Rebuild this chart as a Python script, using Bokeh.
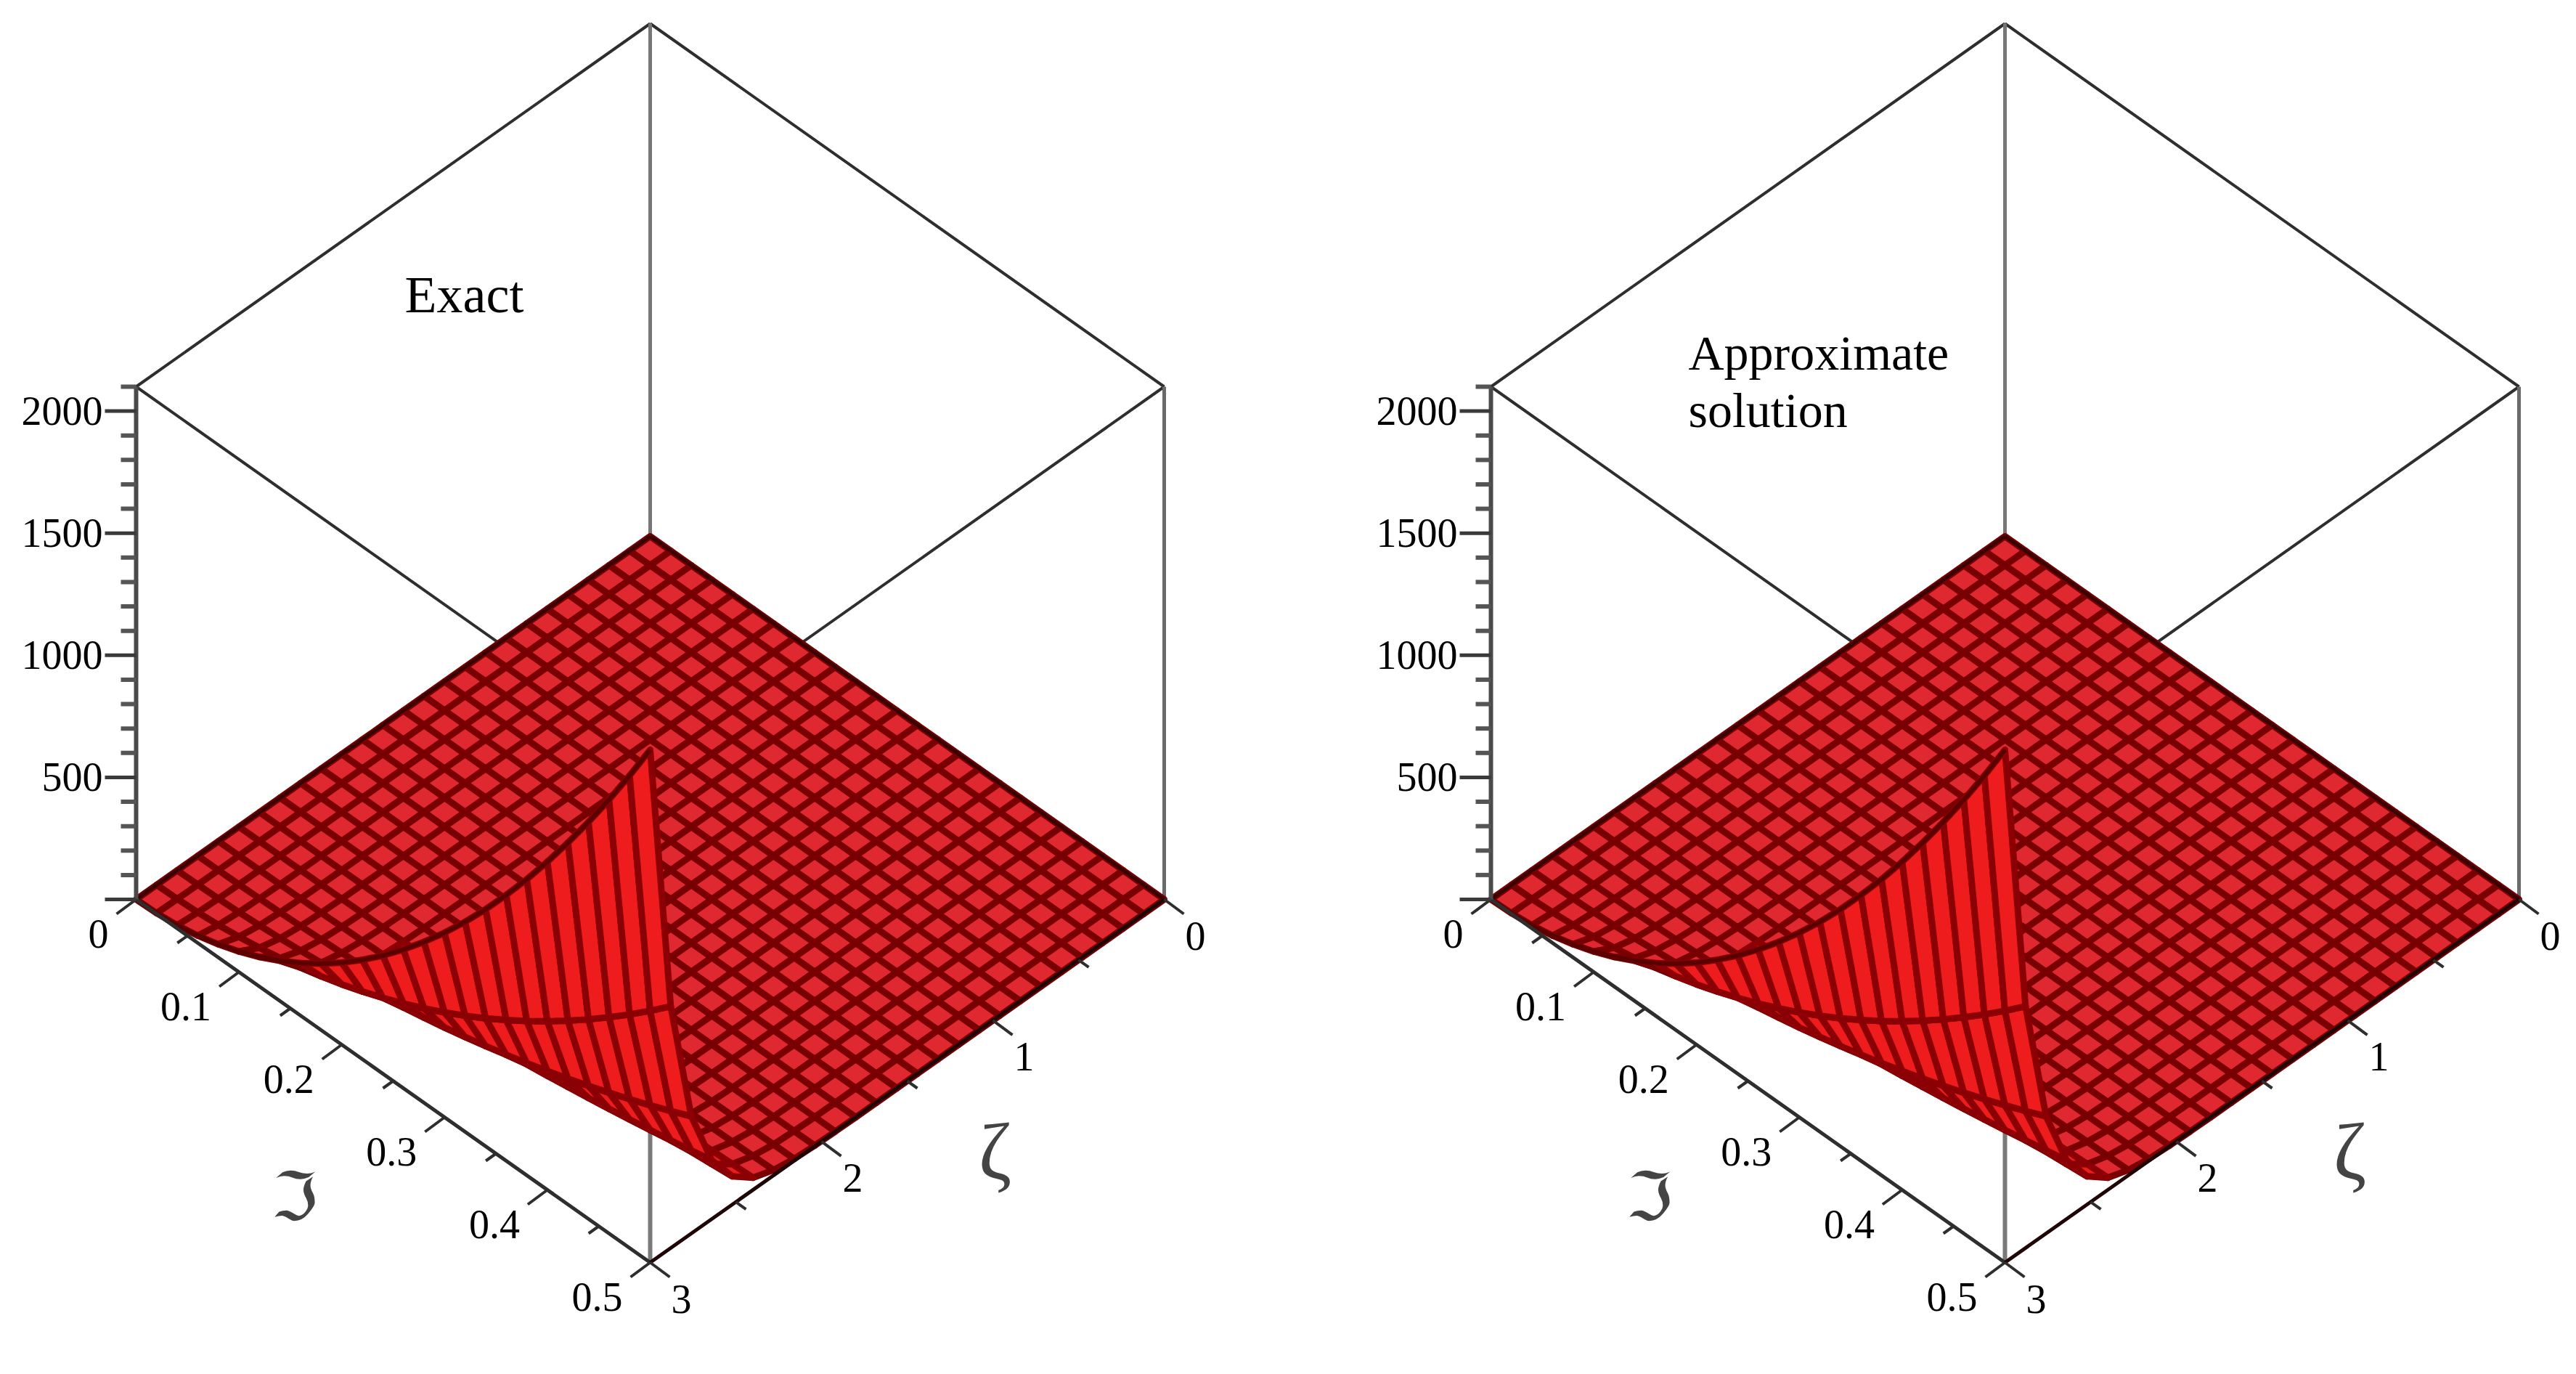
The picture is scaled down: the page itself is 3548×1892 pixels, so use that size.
from bokeh.embed import file_html
from bokeh.layouts import row
from bokeh.models import ColumnDataSource, Range1d
from bokeh.plotting import figure
from bokeh.resources import INLINE
from bokeh.core.properties import value

# ---- data ----
frak_grid = [0.00, 0.02, 0.04, 0.06, 0.08, 0.10, 0.12, 0.14, 0.16, 0.18, 0.20, 0.22, 0.24,
             0.26, 0.28, 0.30, 0.32, 0.34, 0.36, 0.38, 0.40, 0.42, 0.44, 0.46, 0.48, 0.50]
zeta_grid = [0.00, 0.12, 0.24, 0.36, 0.48, 0.60, 0.72, 0.84, 0.96, 1.08, 1.20, 1.32, 1.44,
             1.56, 1.68, 1.80, 1.92, 2.04, 2.16, 2.28, 2.40, 2.52, 2.64, 2.76, 2.88, 3.00]
# height along the edge zeta = 3, for each frak value
z_along_frak = [0, 3, 13, 30, 54, 84, 121, 165, 215, 272, 336, 407, 484,
                568, 659, 756, 860, 971, 1089, 1213, 1344, 1482, 1626, 1777, 1935, 2100]
# height along the edge frak = 0.5, for each zeta value
z_along_zeta = [0, 0, 0, 0, 0, 0, 0, 0, 0, 0, 0, 0, 0, 0,
                0, 0, 1, 3, 8, 22, 50, 115, 240, 480, 990, 2100]
z_max = 2100

frak_major = [0.0, 0.1, 0.2, 0.3, 0.4, 0.5]
frak_major_labels = ["0", "0.1", "0.2", "0.3", "0.4", "0.5"]
frak_minor = [0.05, 0.15, 0.25, 0.35, 0.45]
zeta_major = [0, 1, 2, 3]
zeta_major_labels = ["0", "1", "2", "3"]
zeta_minor = [0.5, 1.5, 2.5]
z_major = [500, 1000, 1500, 2000]
z_major_labels = ["500", "1000", "1500", "2000"]
z_minor = [100, 200, 300, 400, 600, 700, 800, 900, 1100, 1200, 1300, 1400,
           1600, 1700, 1800, 1900, 2100]
panel_titles = [["Exact"], ["Approximate", "solution"]]
title_sizes = ["72px", "68px"]
title_xy = [[(557, 405)], [(459, 485), (459, 564)]]

# ---- view of the box ----
CX, HALF, BACK_Y, DEPTH, HEIGHT = 895.0, 708.0, 738.0, 500.0, 706.0
FRAK_MAX, ZETA_MAX = 0.5, 3.0


def proj(f, t, z=0.0):
    u, v = f / FRAK_MAX, t / ZETA_MAX
    return CX + HALF * (u - v), BACK_Y + DEPTH * (u + v) - HEIGHT * z / z_max


def seg(p, a, b, color, width):
    p.line([a[0], b[0]], [a[1], b[1]], line_color=color, line_width=width, line_cap="butt")


def panel(width, x_start, titles, size, xy):
    p = figure(width=width, height=1876, output_backend="svg", toolbar_location=None,
               x_range=Range1d(x_start, x_start + width), y_range=Range1d(1876, 0),
               min_border=0, outline_line_color=None)
    p.axis.visible = False
    p.grid.visible = False
    p.background_fill_color = "white"

    # box edges behind the surface
    c = {k: proj(*k) for k in [(0, 0, z_max), (0.5, 3, z_max), (0, 3, z_max), (0.5, 0, z_max),
                               (0, 0, 0), (0.5, 3, 0), (0, 3, 0), (0.5, 0, 0)]}
    edge = "#2e2e2e"
    seg(p, c[(0, 0, z_max)], c[(0, 3, z_max)], edge, 4)
    seg(p, c[(0, 0, z_max)], c[(0.5, 0, z_max)], edge, 4)
    seg(p, c[(0, 3, z_max)], c[(0.5, 3, z_max)], edge, 4)
    seg(p, c[(0.5, 0, z_max)], c[(0.5, 3, z_max)], edge, 4)
    seg(p, c[(0, 0, z_max)], c[(0, 0, 0)], "#777777", 5)
    seg(p, c[(0.5, 3, z_max)], c[(0.5, 3, 0)], "#7a7a7a", 6)
    seg(p, c[(0.5, 0, z_max)], c[(0.5, 0, 0)], "#6a6a6a", 5)

    # surface, painted from back to front
    n = len(frak_grid) - 1
    cells = sorted(((i, j) for i in range(n) for j in range(n)), key=lambda a: a[0] + a[1])
    xs, ys, fills, lines = [], [], [], []
    for i, j in cells:
        corners = [(i, j), (i + 1, j), (i + 1, j + 1), (i, j + 1)]
        pts = [proj(frak_grid[a], zeta_grid[b], z_along_frak[a] * z_along_zeta[b] / z_max)
               for a, b in corners]
        xs.append([q[0] for q in pts])
        ys.append([q[1] for q in pts])
        steep = z_along_zeta[j + 1] >= 100 and i >= 8
        fills.append("#EE1C1C" if steep else "#E02830")
        lines.append("#8A0004" if steep else "#780002")
    src = ColumnDataSource(dict(xs=xs, ys=ys, fill=fills, line=lines))
    p.patches("xs", "ys", source=src, fill_color="fill", line_color="line",
              line_width=9, line_join="round")

    # floor edges and surface rim
    back = [proj(f, 0, 0) for f in frak_grid]
    side = [proj(0, t, 0) for t in zeta_grid]
    p.line([q[0] for q in back], [q[1] for q in back], line_color="#3a0000", line_width=5)
    p.line([q[0] for q in side], [q[1] for q in side], line_color="#3a0000", line_width=5)
    rim = [proj(f, 3, h) for f, h in zip(frak_grid, z_along_frak)]
    p.line([q[0] for q in rim], [q[1] for q in rim], line_color="#5a0000", line_width=6)

    # axes
    ax = "#2e2e2e"
    seg(p, proj(0, 3), proj(0.5, 3), ax, 5)
    seg(p, proj(0.5, 0), proj(0.5, 3), "#1e0606", 5)
    seg(p, proj(0, 3, 0), proj(0, 3, z_max), "#4a4a4a", 6)

    for f in frak_major:
        a = proj(f, 3)
        seg(p, a, (a[0] - 27, a[1] + 20), ax, 4)
    for f in frak_minor:
        a = proj(f, 3)
        seg(p, a, (a[0] - 14, a[1] + 10), ax, 4)
    for t in zeta_major:
        a = proj(0.5, t)
        seg(p, a, (a[0] + 27, a[1] + 20), ax, 4)
    for t in zeta_minor:
        a = proj(0.5, t)
        seg(p, a, (a[0] + 14, a[1] + 10), ax, 4)
    for z in z_major + [0]:
        a = proj(0, 3, z)
        seg(p, a, (a[0] - 43, a[1]), "#3a3a3a", 5)
    for z in z_minor:
        a = proj(0, 3, z)
        seg(p, a, (a[0] - 21, a[1]), "#555555", 6)

    font = value("Liberation Sans Narrow")
    tx = [proj(f, 3)[0] - 38 for f in frak_major]
    ty = [proj(f, 3)[1] + 47 for f in frak_major]
    p.text(tx, ty, text=frak_major_labels, text_font=font, text_font_size="56px",
           text_align="right", text_baseline="middle", text_color="#000000")
    tx = [proj(0.5, t)[0] + 43 for t in zeta_major]
    ty = [proj(0.5, t)[1] + 50 for t in zeta_major]
    p.text(tx, ty, text=zeta_major_labels, text_font=font, text_font_size="56px",
           text_align="center", text_baseline="middle", text_color="#000000")
    tx = [proj(0, 3, z)[0] - 46 for z in z_major]
    ty = [proj(0, 3, z)[1] for z in z_major]
    p.text(tx, ty, text=z_major_labels, text_font=font, text_font_size="56px",
           text_align="right", text_baseline="middle", text_color="#000000")

    # axis symbols
    p.text([405], [1648], text=["\u2111"], text_font=value("DejaVu Sans"), text_font_size="92px",
           text_align="center", text_baseline="middle", text_color="#444444")
    p.text([1370], [1585], text=["\u03b6"], text_font=value("Liberation Serif"),
           text_font_size="110px",
           text_align="center", text_baseline="middle", text_color="#444444")

    # panel caption
    p.text([q[0] for q in xy], [q[1] for q in xy], text=titles, text_font=value("Liberation Serif"),
           text_font_size=size, text_align="left", text_baseline="alphabetic", text_color="#000000")
    return p


left = panel(1770, 0, panel_titles[0], title_sizes[0], title_xy[0])
right = panel(1762, 1770 - 1866, panel_titles[1], title_sizes[1], title_xy[1])
page = row(left, right, spacing=0)
open("out.html", "w").write(file_html(page, INLINE))
